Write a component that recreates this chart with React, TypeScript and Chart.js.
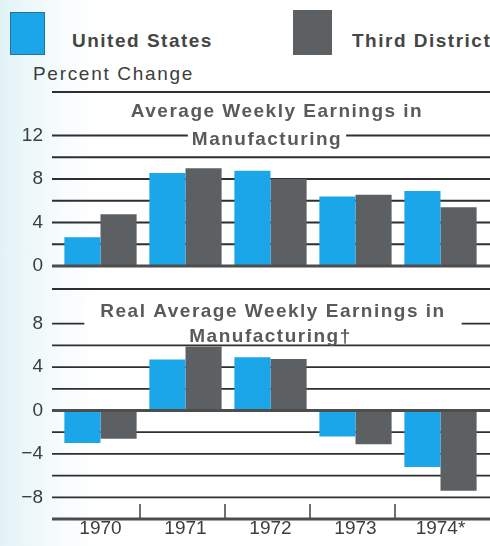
import React, { useEffect, useRef } from "react";
import { Chart, registerables } from "chart.js";

Chart.register(...registerables);

// ---------- data ----------
const YEARS = ["1970", "1971", "1972", "1973", "1974*"];
const SERIES_NAMES = ["United States", "Third District"];
const NOMINAL_US = [2.65, 8.55, 8.75, 6.4, 6.9];
const NOMINAL_THIRD = [4.75, 9.0, 8.0, 6.55, 5.4];
const REAL_US = [-3.0, 4.7, 4.9, -2.4, -5.2];
const REAL_THIRD = [-2.6, 5.9, 4.75, -3.1, -7.4];
const TOP_TICKS = [0, 4, 8, 12];
const TOP_GRID = [2, 4, 6, 8, 10, 12];
const BOTTOM_TICKS = [-8, -4, 0, 4, 8];
const BOTTOM_GRID = [-8, -6, -4, -2, 2, 4, 6, 8];
const TITLE_TOP = ["Average Weekly Earnings in", "Manufacturing"];
const TITLE_BOTTOM = ["Real Average Weekly Earnings in", "Manufacturing\u2020"];
const Y_LABEL = "Percent Change";

// ---------- style ----------
const FONT = "'Liberation Sans', Arial, Helvetica, sans-serif";
const BLUE = "#1ba6ea";
const GRAY = "#5d6063";
const LINE = "#2f2f2f";
const AXIS = "#4d4d4d";
const TEXT = "#3d3d3d";
const TITLE_COLOR = "#5a5a5a";
const MASK = "#ffffff";

type PanelOpts = {
  grid: number[];
  zero: number;
  base?: number;
  title: string[];
  titleX: number[];
  titleY: number[];
  maskLine: number;
  maskPadX: number;
  maskY0: number;
  maskY1: number;
};

function panelPlugin(o: PanelOpts) {
  return {
    id: "panelDeco",
    beforeDatasetsDraw(chart: any) {
      const ctx = chart.ctx;
      const ys = chart.scales.y;
      const area = chart.chartArea;
      const x0 = 52;
      const x1 = chart.width;
      ctx.save();
      ctx.strokeStyle = LINE;
      ctx.lineWidth = 1.8;
      for (const v of o.grid) {
        const py = ys.getPixelForValue(v);
        ctx.beginPath();
        ctx.moveTo(x0, py);
        ctx.lineTo(x1, py);
        ctx.stroke();
      }
      // top separator
      ctx.lineWidth = 2.2;
      ctx.beginPath();
      ctx.moveTo(x0, area.top);
      ctx.lineTo(x1, area.top);
      ctx.stroke();

      // title with mask
      ctx.font = `bold 19px ${FONT}`;
      try {
        ctx.letterSpacing = "1.5px";
      } catch (e) {}
      const w = ctx.measureText(o.title[o.maskLine]).width;
      const cx = o.titleX[o.maskLine];
      ctx.fillStyle = MASK;
      ctx.fillRect(cx - w / 2 - o.maskPadX, o.maskY0, w + 2 * o.maskPadX, o.maskY1 - o.maskY0);
      ctx.fillStyle = TITLE_COLOR;
      ctx.textAlign = "center";
      ctx.textBaseline = "alphabetic";
      o.title.forEach((t, i) => ctx.fillText(t, o.titleX[i], o.titleY[i]));
      ctx.restore();
    },
    afterDatasetsDraw(chart: any) {
      const ctx = chart.ctx;
      const ys = chart.scales.y;
      const xs = chart.scales.x;
      const x0 = 52;
      const x1 = chart.width;
      ctx.save();
      ctx.strokeStyle = AXIS;
      ctx.lineWidth = 2.8;
      const pz = ys.getPixelForValue(o.zero);
      ctx.beginPath();
      ctx.moveTo(x0, pz);
      ctx.lineTo(x1, pz);
      ctx.stroke();
      if (o.base !== undefined) {
        const pb = ys.getPixelForValue(o.base);
        ctx.beginPath();
        ctx.moveTo(x0, pb);
        ctx.lineTo(x1, pb);
        ctx.stroke();
        ctx.lineWidth = 1.6;
        const n = chart.data.labels.length;
        for (let i = 0; i < n - 1; i++) {
          const bx = (xs.getPixelForValue(i) + xs.getPixelForValue(i + 1)) / 2 - 3;
          ctx.beginPath();
          ctx.moveTo(bx, pb);
          ctx.lineTo(bx, pb - 15);
          ctx.stroke();
        }
      }
      ctx.restore();
    },
  };
}

function fmt(v: number) {
  return v < 0 ? "\u2212" + Math.abs(v) : String(v);
}

function makeConfig(
  us: number[],
  third: number[],
  min: number,
  max: number,
  ticks: number[],
  showX: boolean,
  padding: any,
  plugin: any
): any {
  return {
    type: "bar",
    data: {
      labels: YEARS,
      datasets: [
        { label: SERIES_NAMES[0], data: us, backgroundColor: BLUE, categoryPercentage: 0.85, barPercentage: 1.0 },
        { label: SERIES_NAMES[1], data: third, backgroundColor: GRAY, categoryPercentage: 0.85, barPercentage: 1.0 },
      ],
    },
    options: {
      animation: false,
      responsive: false,
      maintainAspectRatio: false,
      layout: { padding },
      plugins: { legend: { display: false }, tooltip: { enabled: false }, title: { display: false } },
      scales: {
        x: {
          display: showX,
          offset: true,
          grid: { display: false, drawTicks: false },
          border: { display: false },
          ticks: { color: TEXT, padding: 0, font: { family: FONT, size: 19, lineHeight: 1 } },
          afterFit: (s: any) => {
            s.paddingLeft = 0;
            s.paddingRight = 0;
          },
        },
        y: {
          min,
          max,
          afterFit: (s: any) => {
            s.width = 58;
            s.paddingTop = 0;
            s.paddingBottom = 0;
          },
          afterBuildTicks: (s: any) => {
            s.ticks = ticks.map((v) => ({ value: v }));
          },
          grid: { display: false, drawTicks: false },
          border: { display: false },
          ticks: {
            color: TEXT,
            padding: 15,
            font: { family: FONT, size: 19 },
            callback: (v: any) => fmt(Number(v)),
          },
        },
      },
    },
    plugins: [plugin],
  };
}

export default function App() {
  const topRef = useRef<HTMLCanvasElement | null>(null);
  const botRef = useRef<HTMLCanvasElement | null>(null);

  useEffect(() => {
    const top = new Chart(
      topRef.current as HTMLCanvasElement,
      makeConfig(
        NOMINAL_US,
        NOMINAL_THIRD,
        0,
        16,
        TOP_TICKS,
        false,
        { top: 7, bottom: 19, left: 0, right: 7 },
        panelPlugin({
          grid: TOP_GRID,
          zero: 0,
          title: TITLE_TOP,
          titleX: [277, 267],
          titleY: [31.7, 60],
          maskLine: 1,
          maskPadX: 4,
          maskY0: 44,
          maskY1: 64,
        })
      )
    );
    const bot = new Chart(
      botRef.current as HTMLCanvasElement,
      makeConfig(
        REAL_US,
        REAL_THIRD,
        -10,
        11.2,
        BOTTOM_TICKS,
        true,
        { top: 4, bottom: 8, left: 0, right: 7 },
        panelPlugin({
          grid: BOTTOM_GRID,
          zero: 0,
          base: -10,
          title: TITLE_BOTTOM,
          titleX: [273, 270.5],
          titleY: [31.7, 56.7],
          maskLine: 0,
          maskPadX: 16,
          maskY0: 12,
          maskY1: 40,
        })
      )
    );
    return () => {
      top.destroy();
      bot.destroy();
    };
  }, []);

  const legendText: React.CSSProperties = {
    position: "absolute",
    fontFamily: FONT,
    fontWeight: "bold",
    fontSize: 19,
    lineHeight: "19px",
    letterSpacing: "1.5px",
    color: "#454545",
    whiteSpace: "nowrap",
  };

  return (
    <div
      style={{
        position: "fixed",
        left: 0,
        top: 0,
        width: 490,
        height: 546,
        overflow: "hidden",
        background: "linear-gradient(to right, #e2f3f5 0px, #f2fafb 45px, #ffffff 95px, #ffffff 100%)",
      }}
    >
      <div style={{ position: "absolute", left: 10, top: 12, width: 35, height: 43, background: BLUE, boxShadow: "inset 0 0 0 1px #2a6f94" }} />
      <div style={{ ...legendText, left: 72, top: 30.6 }}>{SERIES_NAMES[0]}</div>
      <div style={{ position: "absolute", left: 293, top: 10, width: 39, height: 45, background: GRAY }} />
      <div style={{ ...legendText, left: 352, top: 30.6 }}>{SERIES_NAMES[1]}</div>
      <div
        style={{
          position: "absolute",
          left: 33,
          top: 63.9,
          fontFamily: FONT,
          fontSize: 19,
          lineHeight: "19px",
          letterSpacing: "1.7px",
          color: TEXT,
          whiteSpace: "nowrap",
        }}
      >
        {Y_LABEL}
      </div>
      <canvas ref={topRef} width={490} height={200} style={{ position: "absolute", left: 0, top: 85, display: "block" }} />
      <canvas ref={botRef} width={490} height={261} style={{ position: "absolute", left: 0, top: 285, display: "block" }} />
    </div>
  );
}
